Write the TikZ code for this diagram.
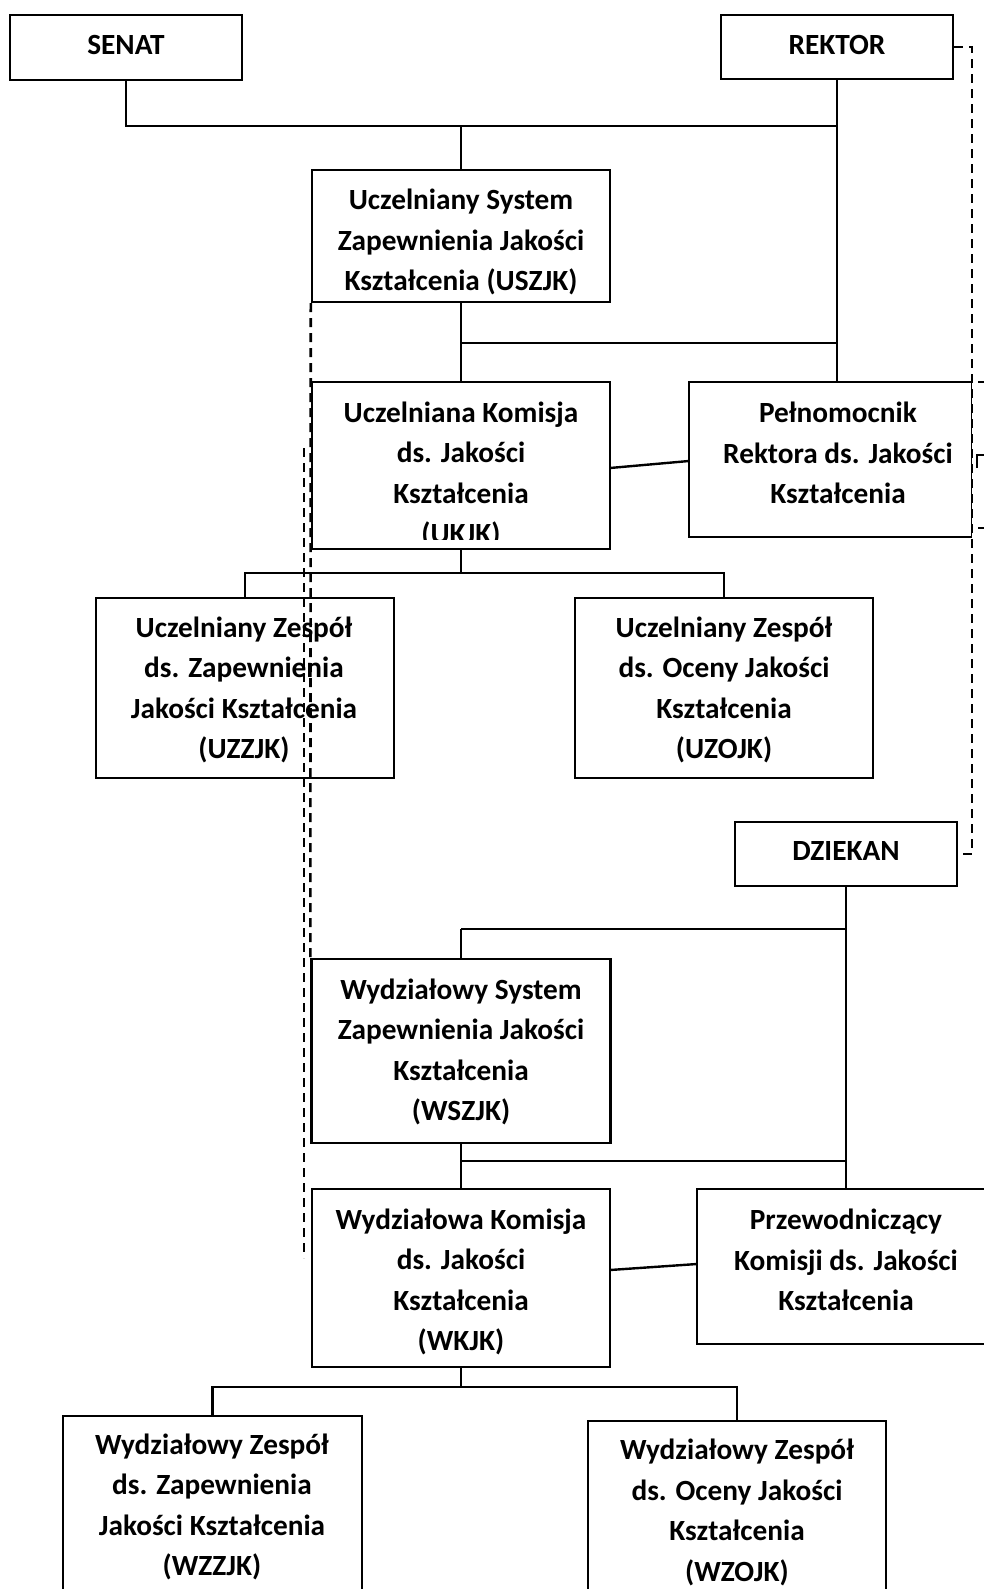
\documentclass[tikz,border=0pt]{standalone}
\usepackage{fontspec}
\setmainfont{Carlito}
\begin{document}
\begin{tikzpicture}[x=1pt,y=-1pt,
  box/.style={draw, line width=2.4pt, inner sep=0pt, rectangle},
  txt/.style={font=\fontsize{29.3}{40.5}\selectfont\bfseries, align=center, inner sep=0pt},
  link/.style={line width=2.4pt},
  dlink/.style={line width=2.6pt, dash pattern=on 9pt off 6pt}]
\useasboundingbox (0,0) rectangle (984,1589);
\fill[white] (0,0) rectangle (984,1589);

% boxes
\node[box, minimum width=232pt, minimum height=65pt] (senat) at (126,47.5) {};
\node[box, minimum width=232pt, minimum height=64pt] (rektor) at (837,47) {};
\node[box, minimum width=298pt, minimum height=132pt] (uszjk) at (461,236) {};
\node[box, minimum width=298pt, minimum height=167pt] (ukjk) at (461,465.5) {};
\node[box, minimum width=283pt, minimum height=155pt] (pel) at (830.5,459.5) {};
\node[box, minimum width=298pt, minimum height=180pt] (uzzjk) at (245,688) {};
\node[box, minimum width=298pt, minimum height=180pt] (uzojk) at (724,688) {};
\node[box, minimum width=222pt, minimum height=64pt] (dziekan) at (846,854) {};
\node[box, minimum width=299pt, minimum height=184pt] (wszjk) at (461,1051) {};
\node[box, minimum width=298pt, minimum height=178pt] (wkjk) at (461,1278) {};
\node[box, minimum width=288pt, minimum height=155pt] (prz) at (841,1266.5) {};
\node[box, minimum width=299pt, minimum height=184pt] (wzzjk) at (212.5,1508) {};
\node[box, minimum width=298pt, minimum height=180pt] (wzojk) at (737,1511) {};

% texts
\node[txt] (senatT) at (126,45) {SENAT};
\node[txt] (rektorT) at (837,45) {REKTOR};
\node[txt] (uszjkT) at (461,242) {Uczelniany System\\Zapewnienia Jakości\\Kształcenia (USZJK)};
\begin{scope}
\clip (313,383) rectangle (609,539);
\node[txt] (ukjkT) at (461,475) {Uczelniana Komisja\\ds. Jakości\\Kształcenia\\(UKJK)};
\end{scope}
\node[txt] (pelT) at (838,453) {Pełnomocnik\\Rektora ds. Jakości\\Kształcenia};
\node[txt] (uzzjkT) at (244,690) {Uczelniany Zespół\\ds. Zapewnienia\\Jakości Kształcenia\\(UZZJK)};
\node[txt] (uzojkT) at (724,690) {Uczelniany Zespół\\ds. Oceny Jakości\\Kształcenia\\(UZOJK)};
\node[txt] (dziekanT) at (846,851) {DZIEKAN};
\node[txt] (wszjkT) at (461,1052) {Wydziałowy System\\Zapewnienia Jakości\\Kształcenia\\(WSZJK)};
\node[txt] (wkjkT) at (461,1282) {Wydziałowa Komisja\\ds. Jakości\\Kształcenia\\(WKJK)};
\node[txt] (przT) at (846,1260) {Przewodniczący\\Komisji ds. Jakości\\Kształcenia};
\node[txt] (wzzjkT) at (212,1507) {Wydziałowy Zespół\\ds. Zapewnienia\\Jakości Kształcenia\\(WZZJK)};
\node[txt] (wzojkT) at (737,1512.5) {Wydziałowy Zespół\\ds. Oceny Jakości\\Kształcenia\\(WZOJK)};

% junctions
\coordinate (j1) at (461,126);
\coordinate (j2) at (461,343);
\coordinate (j3) at (461,573);
\coordinate (j4) at (461,929);
\coordinate (j5) at (461,1161);
\coordinate (j6) at (461,1387);
\coordinate (ukR) at (610,468);
\coordinate (pelL) at (689,461);
\coordinate (wkR) at (610,1270);
\coordinate (przL) at (697,1264);

% solid connectors
\draw[link] (senat.south) |- (rektor.south |- j1);
\draw[link] (rektor.south) -- (rektor.south |- pel.north);
\draw[link] (j1) -- (uszjk.north);
\draw[link] (uszjk.south) -- (ukjk.north);
\draw[link] (j2) -- (rektor.south |- j2);
\draw[link] (ukR) -- (pelL);
\draw[link] (ukjk.south) -- (j3);
\draw[link] (uzzjk.north) |- (j3) -| (uzojk.north);
\draw[link] (dziekan.south) -- (dziekan.south |- prz.north);
\draw[link] (j4) -- (dziekan.south |- j4);
\draw[link] (j4) -- (wszjk.north);
\draw[link] (wszjk.south) -- (wkjk.north);
\draw[link] (j5) -- (dziekan.south |- j5);
\draw[link] (wkR) -- (przL);
\draw[link] (wkjk.south) -- (j6);
\draw[link] (wzzjk.north) |- (j6) -| (wzojk.north);

% right dashed connector
\draw[white, line width=3pt] (pel.north east) -- (pel.south east);
\coordinate (rd) at (972,47);
\draw[dlink] (rektor.east) -- (rd) |- (dziekan.east);
\draw[line width=2pt] (978,382) -- (984,382);
\draw[line width=2pt] (977,468) |- (984,455);
\draw[line width=2pt] (978,528) -- (984,528);

% left dashed connectors
\coordinate (dA) at (304,448);
\coordinate (dB) at (304,1258);
\draw[dlink] (uszjk.south west) -- (wszjk.north west);
\draw[dlink] (dA) -- (dB);
\end{tikzpicture}
\end{document}
